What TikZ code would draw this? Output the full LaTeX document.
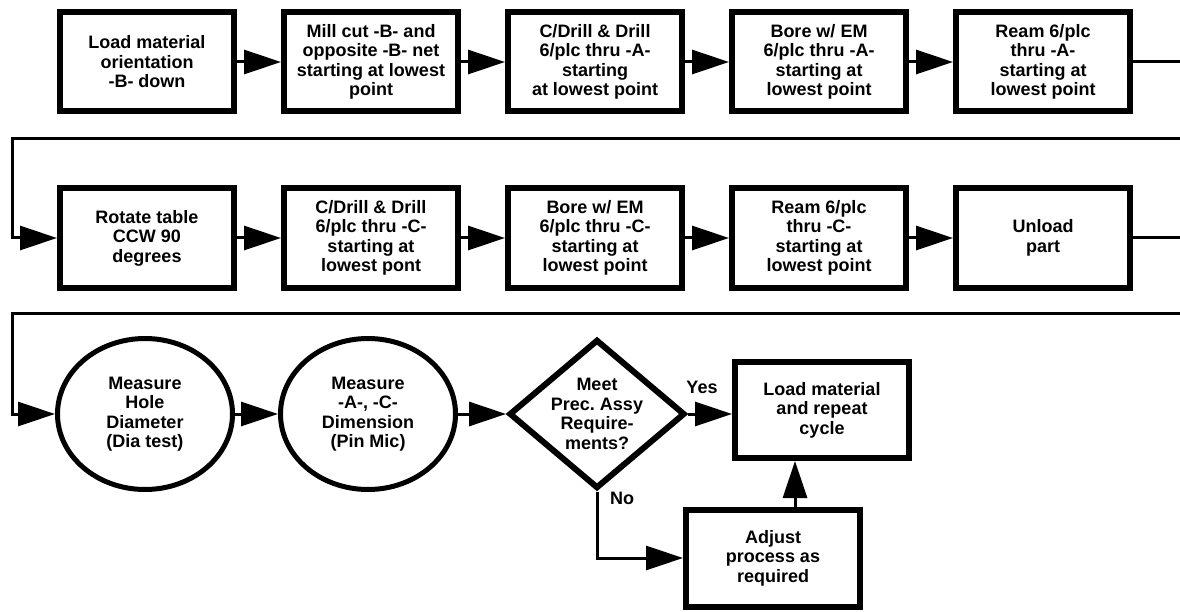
\documentclass[tikz,border=0pt]{standalone}
\usepackage{fontspec}
\setmainfont{Liberation Sans}
\usetikzlibrary{arrows.meta,shapes.geometric}
\begin{document}
\frenchspacing
\begin{tikzpicture}[x=1pt,y=-1pt,
  txt/.style={font=\fontsize{18}{19.5}\selectfont\bfseries, align=center},
  stepbox/.style={txt, draw, line width=6pt, minimum width=174pt, minimum height=99pt, inner sep=0pt},
  oval/.style={txt, draw, ellipse, line width=5pt, minimum width=175pt, minimum height=151pt, inner sep=0pt},
  decision/.style={txt, draw, diamond, line width=6pt, minimum width=174pt, minimum height=146pt, inner sep=0pt, shape aspect=1.18},
  flow/.style={line width=3pt, -{Triangle[length=37pt,width=24pt]}},
  wire/.style={line width=3pt}
]
\useasboundingbox (0,0) rectangle (1180,612);
\fill[white] (0,0) rectangle (1180,612);

% first row: face -A-
\node[stepbox] (a1) at (147,62) {Load material\\orientation\\-B- down};
\node[stepbox] (a2) at (371,62) {Mill cut -B- and\\opposite -B- net\\starting at lowest\\point};
\node[stepbox] (a3) at (595,62) {C/Drill \& Drill\\6/plc thru -A-\\starting\\at lowest point};
\node[stepbox] (a4) at (819,62) {Bore w/ EM\\6/plc thru -A-\\starting at\\lowest point};
\node[stepbox] (a5) at (1043,62) {Ream 6/plc\\thru -A-\\starting at\\lowest point};

% second row: face -C-
\node[stepbox] (b1) at (147,238) {Rotate table\\CCW 90\\degrees};
\node[stepbox] (b2) at (371,238) {C/Drill \& Drill\\6/plc thru -C-\\starting at\\lowest pont};
\node[stepbox] (b3) at (595,238) {Bore w/ EM\\6/plc thru -C-\\starting at\\lowest point};
\node[stepbox] (b4) at (819,238) {Ream 6/plc\\thru -C-\\starting at\\lowest point};
\node[stepbox] (b5) at (1043,238) {Unload\\part};

% third row: inspection and decision
\node[oval] (m1) at (145,414) {Measure\\Hole\\Diameter\\(Dia test)};
\node[oval] (m2) at (368,414) {Measure\\-A-, -C-\\Dimension\\(Pin Mic)};
\node[decision] (q) at (597,414) {Meet\\Prec. Assy\\Require-\\ments?};
\node[stepbox, minimum height=96pt] (rep) at (822,410) {Load material\\and repeat\\cycle};
\node[stepbox, minimum height=97pt] (adj) at (773,558) {Adjust\\process as\\required};

\node[txt] (yes) at (702,387) {Yes};
\node[txt] (no) at (622,498) {No};

% row links
\foreach \s/\t in {a1/a2,a2/a3,a3/a4,a4/a5,b1/b2,b2/b3,b3/b4,b4/b5}
  \draw[flow] (\s.east) -- (\t.west);

% returns from the right margin
\coordinate (ra) at (1180,62);
\coordinate (rb) at (1180,139);
\coordinate (la) at (12,139);
\coordinate (rc) at (1180,238);
\coordinate (rd) at (1180,313);
\coordinate (lb) at (12,313);
\draw[wire] (a5.east) -- (ra);
\draw[flow] (rb) -- (la) |- (b1.west);
\draw[wire] (b5.east) -- (rc);
\draw[flow] (rd) -- (lb) |- (m1.west);

% inspection flow
\draw[flow] (m1.east) -- (m2.west);
\draw[flow] (m2.east) -- (q.west);
\draw[flow] (q.east) -- (q.east -| rep.west);
\draw[flow] (q.south) |- (adj.west);
\coordinate (upx) at (795,0);
\draw[flow] (adj.north -| upx) -- (rep.south -| upx);
\end{tikzpicture}
\end{document}
